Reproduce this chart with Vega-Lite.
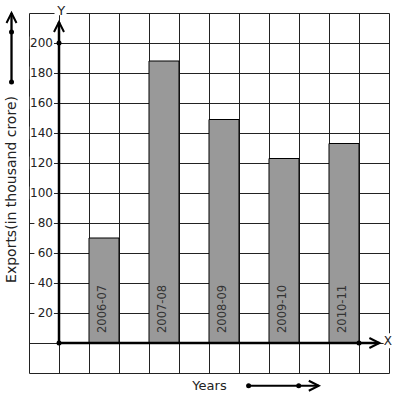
{
  "$schema": "https://vega.github.io/schema/vega-lite/v6.json",
  "width": 360,
  "height": 360,
  "autosize": "none",
  "padding": {"left": 29, "top": 13, "right": 8, "bottom": 26},
  "config": {"font": "DejaVu Sans", "view": {"stroke": null}},
  "datasets": {
    "exports": [
      {"year": "2006-07", "exports": 70},
      {"year": "2007-08", "exports": 188},
      {"year": "2008-09", "exports": 149},
      {"year": "2009-10", "exports": 123},
      {"year": "2010-11", "exports": 133}
    ],
    "ticks": [
      {"v": 20}, {"v": 40}, {"v": 60}, {"v": 80}, {"v": 100},
      {"v": 120}, {"v": 140}, {"v": 160}, {"v": 180}, {"v": 200}
    ],
    "one": [{}]
  },
  "data": {"name": "one"},
  "resolve": {"scale": {"x": "independent"}, "axis": {"x": "independent", "y": "independent"}},
  "layer": [
    {
      "data": {"name": "ticks"},
      "transform": [{"filter": "datum.v >= 100"}],
      "mark": {"type": "rect", "fill": "white", "yOffset": -6.5, "y2Offset": 6.5},
      "encoding": {
        "x": {"datum": -0.97, "type": "quantitative",
              "scale": {"domain": [-1, 11], "nice": false, "zero": false},
              "axis": {"values": [-1,0,1,2,3,4,5,6,7,8,9,10,11], "grid": true, "gridColor": "#222222", "gridOpacity": 1, "gridWidth": 1,
                       "labels": false, "ticks": false, "domain": false,
                       "title": "Years", "titleX": 180, "titleY": 16, "titleBaseline": "alphabetic", "titleAlign": "center",
                       "titleFontSize": 13, "titleFontWeight": "normal", "titleColor": "#222222", "titleFont": "DejaVu Sans"}},
        "x2": {"datum": -0.17},
        "y": {"field": "v", "type": "quantitative",
              "scale": {"domain": [-20, 220], "nice": false, "zero": false},
              "axis": {"values": [-20,0,20,40,60,80,100,120,140,160,180,200,220], "grid": true, "gridColor": "#222222", "gridOpacity": 1, "gridWidth": 1,
                       "labels": false, "ticks": false, "domain": false,
                       "title": "Exports(in thousand crore)", "titleX": -14, "titleY": 176, "titleAngle": 270,
                       "titleBaseline": "alphabetic", "titleAlign": "center",
                       "titleFontSize": 14, "titleFontWeight": "normal", "titleColor": "#222222", "titleFont": "DejaVu Sans"}},
        "y2": {"field": "v"}
      }
    },
    {
      "data": {"name": "exports"},
      "mark": {"type": "bar", "fill": "#999999", "stroke": "#000000", "strokeWidth": 1},
      "encoding": {
        "x": {"field": "year", "type": "nominal", "sort": null, "axis": null,
              "scale": {"type": "band", "paddingInner": 0.5, "paddingOuter": 0.75, "align": 0.66667}},
        "y": {"field": "exports", "type": "quantitative", "axis": null,
              "scale": {"domain": [-20, 220], "nice": false, "zero": false}},
        "y2": {"datum": 0}
      }
    },
    {
      "data": {"name": "exports"},
      "mark": {"type": "text", "angle": 270, "align": "left", "baseline": "middle", "dx": 10, "dy": -1, "fontSize": 11.5, "color": "#333333"},
      "encoding": {
        "x": {"field": "year", "type": "nominal", "sort": null, "axis": null,
              "scale": {"type": "band", "paddingInner": 0.5, "paddingOuter": 0.75, "align": 0.66667}},
        "y": {"datum": 0, "type": "quantitative", "axis": null,
              "scale": {"domain": [-20, 220], "nice": false, "zero": false}},
        "text": {"field": "year"}
      }
    },
    {
      "data": {"name": "ticks"},
      "transform": [{"filter": "datum.v >= 100"}],
      "mark": {"type": "rect", "fill": "white", "yOffset": -6.5, "y2Offset": 6.5},
      "encoding": {
        "x": {"datum": -0.97, "type": "quantitative", "axis": null, "scale": {"domain": [-1, 11], "nice": false, "zero": false}},
        "x2": {"datum": -0.17},
        "y": {"field": "v", "type": "quantitative", "axis": null, "scale": {"domain": [-20, 220], "nice": false, "zero": false}},
        "y2": {"field": "v"}
      }
    },
    {
      "data": {"name": "ticks"},
      "transform": [{"filter": "datum.v < 100"}],
      "mark": {"type": "rect", "fill": "white", "yOffset": -6.5, "y2Offset": 6.5},
      "encoding": {
        "x": {"datum": -0.82, "type": "quantitative", "axis": null, "scale": {"domain": [-1, 11], "nice": false, "zero": false}},
        "x2": {"datum": -0.17},
        "y": {"field": "v", "type": "quantitative", "axis": null, "scale": {"domain": [-20, 220], "nice": false, "zero": false}},
        "y2": {"field": "v"}
      }
    },
    {
      "data": {"name": "ticks"},
      "mark": {"type": "text", "align": "right", "baseline": "middle", "fontSize": 12, "color": "#222222"},
      "encoding": {
        "x": {"datum": -0.2, "type": "quantitative", "axis": null, "scale": {"domain": [-1, 11], "nice": false, "zero": false}},
        "y": {"field": "v", "type": "quantitative", "axis": null, "scale": {"domain": [-20, 220], "nice": false, "zero": false}},
        "text": {"field": "v"}
      }
    },
    {
      "mark": {"type": "rect", "fill": "white"},
      "encoding": {
        "x": {"datum": -0.15, "type": "quantitative", "axis": null, "scale": {"domain": [-1, 11], "nice": false, "zero": false}},
        "x2": {"datum": 0.25},
        "y": {"datum": 218.5, "type": "quantitative", "axis": null, "scale": {"domain": [-20, 220], "nice": false, "zero": false}},
        "y2": {"datum": 227}
      }
    },
    {
      "mark": {"type": "text", "text": "Y", "align": "center", "baseline": "alphabetic", "fontSize": 13, "color": "#222222"},
      "encoding": {
        "x": {"datum": 0.07, "type": "quantitative", "axis": null, "scale": {"domain": [-1, 11], "nice": false, "zero": false}},
        "y": {"datum": 219, "type": "quantitative", "axis": null, "scale": {"domain": [-20, 220], "nice": false, "zero": false}}
      }
    },
    {
      "mark": {"type": "rect", "fill": "white"},
      "encoding": {
        "x": {"datum": 10.82, "type": "quantitative", "axis": null, "scale": {"domain": [-1, 11], "nice": false, "zero": false}},
        "x2": {"datum": 11.12},
        "y": {"datum": -3.5, "type": "quantitative", "axis": null, "scale": {"domain": [-20, 220], "nice": false, "zero": false}},
        "y2": {"datum": 6.5}
      }
    },
    {
      "mark": {"type": "text", "text": "X", "align": "center", "baseline": "alphabetic", "fontSize": 12, "color": "#222222"},
      "encoding": {
        "x": {"datum": 10.96, "type": "quantitative", "axis": null, "scale": {"domain": [-1, 11], "nice": false, "zero": false}},
        "y": {"datum": -1.1, "type": "quantitative", "axis": null, "scale": {"domain": [-20, 220], "nice": false, "zero": false}}
      }
    },
    {
      "mark": {"type": "rule", "color": "#000000", "strokeWidth": 2.5},
      "encoding": {
        "x": {"datum": 0, "type": "quantitative", "axis": null, "scale": {"domain": [-1, 11], "nice": false, "zero": false}},
        "y": {"datum": 0, "type": "quantitative", "axis": null, "scale": {"domain": [-20, 220], "nice": false, "zero": false}},
        "y2": {"datum": 214}
      }
    },
    {
      "mark": {"type": "rule", "color": "#000000", "strokeWidth": 2.5},
      "encoding": {
        "x": {"datum": 0, "type": "quantitative", "axis": null, "scale": {"domain": [-1, 11], "nice": false, "zero": false}},
        "x2": {"datum": 10.68},
        "y": {"datum": 0, "type": "quantitative", "axis": null, "scale": {"domain": [-20, 220], "nice": false, "zero": false}}
      }
    },
    {
      "mark": {"type": "rule", "color": "#000000", "strokeWidth": 2.3},
      "encoding": {
        "x": {"datum": -1.583, "type": "quantitative", "axis": null, "scale": {"domain": [-1, 11], "nice": false, "zero": false}},
        "y": {"datum": 174, "type": "quantitative", "axis": null, "scale": {"domain": [-20, 220], "nice": false, "zero": false}},
        "y2": {"datum": 220}
      }
    },
    {
      "mark": {"type": "rule", "color": "#000000", "strokeWidth": 2},
      "encoding": {
        "x": {"datum": 6.32, "type": "quantitative", "axis": null, "scale": {"domain": [-1, 11], "nice": false, "zero": false}},
        "x2": {"datum": 8.66},
        "y": {"datum": -28.5, "type": "quantitative", "axis": null, "scale": {"domain": [-20, 220], "nice": false, "zero": false}}
      }
    },
    {
      "mark": {"type": "point", "filled": true, "color": "#000000", "opacity": 1, "size": 25},
      "encoding": {
        "x": {"datum": 0, "type": "quantitative", "axis": null, "scale": {"domain": [-1, 11], "nice": false, "zero": false}},
        "y": {"datum": 0, "type": "quantitative", "axis": null, "scale": {"domain": [-20, 220], "nice": false, "zero": false}}
      }
    },
    {
      "mark": {"type": "point", "filled": true, "color": "#000000", "opacity": 1, "size": 25},
      "encoding": {
        "x": {"datum": 0, "type": "quantitative", "axis": null, "scale": {"domain": [-1, 11], "nice": false, "zero": false}},
        "y": {"datum": 200, "type": "quantitative", "axis": null, "scale": {"domain": [-20, 220], "nice": false, "zero": false}}
      }
    },
    {
      "mark": {"type": "point", "filled": true, "color": "#000000", "opacity": 1, "size": 25},
      "encoding": {
        "x": {"datum": 10, "type": "quantitative", "axis": null, "scale": {"domain": [-1, 11], "nice": false, "zero": false}},
        "y": {"datum": 0, "type": "quantitative", "axis": null, "scale": {"domain": [-20, 220], "nice": false, "zero": false}}
      }
    },
    {
      "mark": {"type": "point", "filled": true, "color": "#000000", "opacity": 1, "size": 25},
      "encoding": {
        "x": {"datum": -1.583, "type": "quantitative", "axis": null, "scale": {"domain": [-1, 11], "nice": false, "zero": false}},
        "y": {"datum": 174, "type": "quantitative", "axis": null, "scale": {"domain": [-20, 220], "nice": false, "zero": false}}
      }
    },
    {
      "mark": {"type": "point", "filled": true, "color": "#000000", "opacity": 1, "size": 25},
      "encoding": {
        "x": {"datum": -1.583, "type": "quantitative", "axis": null, "scale": {"domain": [-1, 11], "nice": false, "zero": false}},
        "y": {"datum": 207.3, "type": "quantitative", "axis": null, "scale": {"domain": [-20, 220], "nice": false, "zero": false}}
      }
    },
    {
      "mark": {"type": "point", "filled": true, "color": "#000000", "opacity": 1, "size": 25},
      "encoding": {
        "x": {"datum": 6.32, "type": "quantitative", "axis": null, "scale": {"domain": [-1, 11], "nice": false, "zero": false}},
        "y": {"datum": -28.5, "type": "quantitative", "axis": null, "scale": {"domain": [-20, 220], "nice": false, "zero": false}}
      }
    },
    {
      "mark": {"type": "point", "filled": true, "color": "#000000", "opacity": 1, "size": 25},
      "encoding": {
        "x": {"datum": 7.99, "type": "quantitative", "axis": null, "scale": {"domain": [-1, 11], "nice": false, "zero": false}},
        "y": {"datum": -28.5, "type": "quantitative", "axis": null, "scale": {"domain": [-20, 220], "nice": false, "zero": false}}
      }
    },
    {
      "mark": {"type": "point", "shape": "M-1,2L0,0L1,2", "filled": false, "color": "#000000", "opacity": 1, "strokeWidth": 2, "size": 100},
      "encoding": {
        "x": {"datum": 0, "type": "quantitative", "axis": null, "scale": {"domain": [-1, 11], "nice": false, "zero": false}},
        "y": {"datum": 214, "type": "quantitative", "axis": null, "scale": {"domain": [-20, 220], "nice": false, "zero": false}}
      }
    },
    {
      "mark": {"type": "point", "shape": "M-1,2L0,0L1,2", "filled": false, "color": "#000000", "opacity": 1, "strokeWidth": 2, "size": 100},
      "encoding": {
        "x": {"datum": -1.583, "type": "quantitative", "axis": null, "scale": {"domain": [-1, 11], "nice": false, "zero": false}},
        "y": {"datum": 220, "type": "quantitative", "axis": null, "scale": {"domain": [-20, 220], "nice": false, "zero": false}}
      }
    },
    {
      "mark": {"type": "point", "shape": "M-2,-1L0,0L-2,1", "filled": false, "color": "#000000", "opacity": 1, "strokeWidth": 2, "size": 100},
      "encoding": {
        "x": {"datum": 10.68, "type": "quantitative", "axis": null, "scale": {"domain": [-1, 11], "nice": false, "zero": false}},
        "y": {"datum": 0, "type": "quantitative", "axis": null, "scale": {"domain": [-20, 220], "nice": false, "zero": false}}
      }
    },
    {
      "mark": {"type": "point", "shape": "M-2,-1L0,0L-2,1", "filled": false, "color": "#000000", "opacity": 1, "strokeWidth": 2, "size": 100},
      "encoding": {
        "x": {"datum": 8.66, "type": "quantitative", "axis": null, "scale": {"domain": [-1, 11], "nice": false, "zero": false}},
        "y": {"datum": -28.5, "type": "quantitative", "axis": null, "scale": {"domain": [-20, 220], "nice": false, "zero": false}}
      }
    }
  ]
}
